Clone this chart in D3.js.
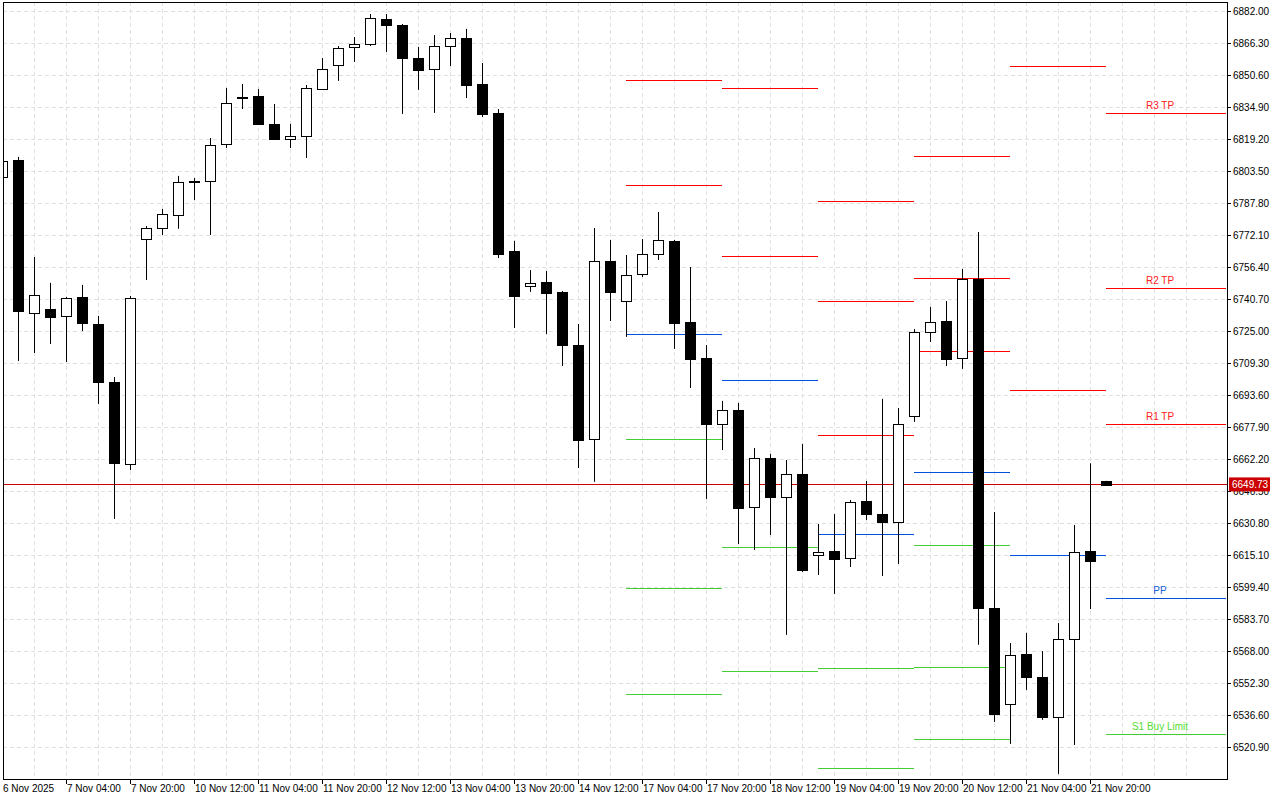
<!DOCTYPE html>
<html lang="en">
<head>
<meta charset="UTF-8">
<title>US500 H4</title>
<script src="https://cdn.jsdelivr.net/npm/d3@7"></script>
<style>
  html, body { margin: 0; padding: 0; background: #fff; }
  svg { display: block; font-family: "Liberation Sans", Arial, sans-serif; }
  .tick-label { font-size: 10px; fill: #000; }
</style>
</head>
<body>
<svg width="1280" height="800"></svg>
<script>
// candles, 4h bars
const opens  = [6800.6,6808.9,6733.8,6735.8,6732.4,6741.7,6728.4,6699.9,6659.8,6770.1,6775.5,6781.9,6798.4,6798.6,6816.8,6839.6,6840.3,6826.6,6819.2,6820.7,
  6843.7,6855.5,6864.3,6865.8,6878.1,6875.1,6858.9,6853.5,6864.8,6868.8,6846.2,6832.0,6764.3,6747.1,6749.1,6744.1,6718.1,6672.0,6759.4,6739.7,
  6753.0,6762.8,6769.2,6729.4,6711.8,6679.4,6686.3,6638.7,6662.7,6643.6,6654.9,6615.1,6617.1,6613.6,6641.6,6635.2,6631.3,6683.3,6724.5,6729.9,
  6711.8,6750.5,6589.1,6542.0,6566.5,6555.3,6535.6,6573.9,6617.1,6651.5];
const highs  = [6810.0,6810.4,6761.3,6748.6,6741.7,6747.6,6732.4,6702.4,6742.2,6776.5,6784.9,6801.1,6800.1,6819.7,6844.2,6846.2,6843.7,6836.4,6826.6,6845.7,
  6858.9,6864.8,6869.2,6880.5,6880.5,6875.6,6864.3,6870.2,6871.2,6873.2,6856.5,6833.9,6769.2,6754.9,6754.4,6744.6,6728.4,6775.5,6769.7,6762.3,
  6770.1,6783.4,6769.7,6756.4,6718.1,6690.7,6689.7,6667.6,6664.7,6661.7,6669.6,6630.3,6635.2,6642.1,6651.4,6691.7,6687.2,6726.0,6736.8,6739.7,
  6755.4,6773.6,6636.2,6571.9,6576.9,6568.0,6581.7,6629.8,6660.1,6651.5];
const lows   = [6799.0,6710.3,6714.2,6718.6,6709.8,6725.0,6689.2,6632.8,6656.8,6750.0,6772.1,6775.1,6789.3,6772.1,6814.8,6833.9,6826.1,6818.7,6814.8,6809.9,
  6843.3,6847.7,6857.0,6864.8,6861.9,6831.5,6843.3,6832.0,6855.0,6839.3,6830.0,6760.8,6726.5,6744.2,6723.5,6707.8,6657.8,6651.0,6729.9,6722.1,
  6751.5,6759.8,6716.2,6697.0,6642.6,6666.6,6620.5,6617.6,6624.9,6575.9,6606.8,6605.3,6596.0,6609.2,6632.3,6604.8,6610.7,6680.4,6719.6,6707.8,
  6706.4,6571.0,6533.2,6522.4,6548.9,6534.2,6507.7,6521.9,6588.6,6649.7];
const closes = [6808.4,6734.8,6742.7,6731.9,6741.2,6728.9,6699.9,6660.2,6741.2,6775.5,6782.4,6798.1,6798.8,6816.3,6836.9,6839.9,6826.6,6819.2,6820.7,6844.2,
  6853.5,6863.9,6865.8,6878.6,6875.1,6858.9,6853.1,6864.8,6868.8,6845.7,6831.5,6762.8,6742.2,6748.6,6743.7,6718.1,6671.5,6759.4,6744.1,6752.5,
  6762.8,6769.7,6728.9,6711.3,6679.4,6686.3,6638.2,6662.7,6643.6,6654.9,6607.8,6616.6,6613.1,6641.1,6635.2,6631.3,6679.4,6724.5,6729.4,6711.3,
  6750.5,6589.1,6537.1,6566.1,6555.3,6535.6,6573.9,6616.6,6612.2,6649.73];

const lastPrice = 6649.73;

const priceTicks = [6882.00,6866.30,6850.60,6834.90,6819.20,6803.50,6787.80,6772.10,6756.40,6740.70,6725.00,6709.30,
  6693.60,6677.90,6662.20,6646.50,6630.80,6615.10,6599.40,6583.70,6568.00,6552.30,6536.60,6520.90];

const timeTickIdx = [0,4,8,12,16,20,24,28,32,36,40,44,48,52,56,60,64,68];
const timeTickLabels = ["6 Nov 2025","7 Nov 04:00","7 Nov 20:00","10 Nov 12:00","11 Nov 04:00","11 Nov 20:00","12 Nov 12:00",
  "13 Nov 04:00","13 Nov 20:00","14 Nov 12:00","17 Nov 04:00","17 Nov 20:00","18 Nov 12:00","19 Nov 04:00","19 Nov 20:00",
  "20 Nov 12:00","21 Nov 04:00","21 Nov 20:00"];

// daily pivot segments (start bar, end bar)
const pivotStart = [39,45,51,57,63,69];
const pivotEnd   = [45,51,57,63,69,76.5];
const pivotRed   = [[6848.0,6796.5],[6844.1,6761.7],[6788.6,6739.6,6673.8],[6810.7,6750.9,6715.0],[6855.0,6695.9],[6832.0,6746.0,6679.2]];
const pivotBlue  = [[6723.4],[6700.8],[6625.3],[6655.7],[6615.0],[6593.9]];
const pivotGreen = [[6671.9,6598.8,6547.0],[6618.9,6558.1],[6559.5,6510.5],[6619.9,6560.3,6524.7],[],[6527.1]];

const levelLabels = [
  {text: "R3 TP", price: 6832.0, color: "#ff2020"},
  {text: "R2 TP", price: 6746.0, color: "#ff2020"},
  {text: "R1 TP", price: 6679.2, color: "#ff2020"},
  {text: "PP", price: 6593.9, color: "#1a5fd8"},
  {text: "S1 Buy Limit", price: 6527.1, color: "#55dd33"}
];

const svg = d3.select("svg");
const plotLeft = 3, plotRight = 1227, plotTop = 2, plotBottom = 779;

const x = d3.scaleLinear().domain([0, 1]).range([2, 18]);
const y = d3.scaleLinear().domain([6882, 6520.9]).range([11, 747]);

svg.append("clipPath").attr("id", "plot")
  .append("rect").attr("x", plotLeft).attr("y", plotTop)
  .attr("width", plotRight - plotLeft).attr("height", plotBottom - plotTop);

// grid
const grid = svg.append("g").attr("stroke", "#e0e0e0").attr("stroke-dasharray", "4,3");
grid.selectAll("line.h").data(priceTicks).join("line")
  .attr("x1", plotLeft).attr("x2", plotRight)
  .attr("y1", d => Math.round(y(d)) + 0.5).attr("y2", d => Math.round(y(d)) + 0.5);
grid.selectAll("line.v").data(d3.range(2, 76, 2)).join("line")
  .attr("y1", plotTop).attr("y2", plotBottom)
  .attr("x1", d => Math.round(x(d)) + 0.5).attr("x2", d => Math.round(x(d)) + 0.5);

const plot = svg.append("g").attr("clip-path", "url(#plot)");

// pivot lines
const levels = [];
pivotStart.forEach((s, i) => {
  pivotRed[i].forEach(p => levels.push({s, e: pivotEnd[i], p, c: "#ff0000"}));
  pivotBlue[i].forEach(p => levels.push({s, e: pivotEnd[i], p, c: "#0050e0"}));
  pivotGreen[i].forEach(p => levels.push({s, e: pivotEnd[i], p, c: "#44cc33"}));
});
plot.selectAll("line.lvl").data(levels).join("line")
  .attr("x1", d => x(d.s)).attr("x2", d => x(d.e))
  .attr("y1", d => Math.round(y(d.p)) + 0.5).attr("y2", d => Math.round(y(d.p)) + 0.5)
  .attr("stroke", d => d.c).attr("stroke-width", 1);

plot.selectAll("text.lvl").data(levelLabels).join("text")
  .attr("x", 1160).attr("y", d => y(d.price) - 4)
  .attr("text-anchor", "middle").attr("font-size", 10).attr("fill", d => d.color)
  .text(d => d.text);

// current price line
plot.append("line").attr("x1", plotLeft).attr("x2", plotRight)
  .attr("y1", Math.round(y(lastPrice)) + 0.5).attr("y2", Math.round(y(lastPrice)) + 0.5)
  .attr("stroke", "#cc0000");

// candles
const candles = opens.map((o, i) => ({i, o, h: highs[i], l: lows[i], c: closes[i]}));
const cg = plot.selectAll("g.candle").data(candles).join("g");
cg.append("line")
  .attr("x1", d => Math.round(x(d.i)) + 0.5).attr("x2", d => Math.round(x(d.i)) + 0.5)
  .attr("y1", d => y(d.h)).attr("y2", d => y(d.l))
  .attr("stroke", "#000");
cg.append("rect")
  .attr("x", d => Math.round(x(d.i)) - 4.5)
  .attr("width", 10)
  .attr("y", d => Math.round(y(Math.max(d.o, d.c))) + 0.5)
  .attr("height", d => Math.max(1, Math.round(Math.abs(y(d.o) - y(d.c)))))
  .attr("fill", d => d.c >= d.o ? "#fff" : "#000")
  .attr("stroke", "#000");

// frame
svg.append("rect").attr("x", plotLeft + 0.5).attr("y", plotTop + 0.5)
  .attr("width", plotRight - plotLeft).attr("height", plotBottom - plotTop)
  .attr("fill", "none").attr("stroke", "#000");

// price axis
const pa = svg.append("g");
pa.selectAll("line").data(priceTicks).join("line")
  .attr("x1", plotRight).attr("x2", plotRight + 4)
  .attr("y1", d => Math.round(y(d)) + 0.5).attr("y2", d => Math.round(y(d)) + 0.5)
  .attr("stroke", "#000");
pa.selectAll("text").data(priceTicks).join("text")
  .attr("class", "tick-label")
  .attr("x", plotRight + 6).attr("y", d => y(d) + 4)
  .text(d => d.toFixed(2));

// last price tag
svg.append("rect").attr("x", plotRight + 2).attr("y", y(lastPrice) - 7)
  .attr("width", 41).attr("height", 14).attr("fill", "#cc0000");
svg.append("text").attr("class", "tick-label").attr("x", plotRight + 5).attr("y", y(lastPrice) + 4)
  .style("fill", "#fff").text(lastPrice.toFixed(2));

// time axis
const ta = svg.append("g");
ta.selectAll("line").data(timeTickIdx.slice(1)).join("line")
  .attr("x1", d => Math.round(x(d)) + 0.5).attr("x2", d => Math.round(x(d)) + 0.5)
  .attr("y1", plotBottom).attr("y2", plotBottom + 5)
  .attr("stroke", "#000");
ta.selectAll("text").data(timeTickIdx).join("text")
  .attr("class", "tick-label")
  .attr("x", d => Math.max(2, x(d) + 1)).attr("y", plotBottom + 13)
  .text((d, i) => timeTickLabels[i]);
</script>
</body>
</html>
